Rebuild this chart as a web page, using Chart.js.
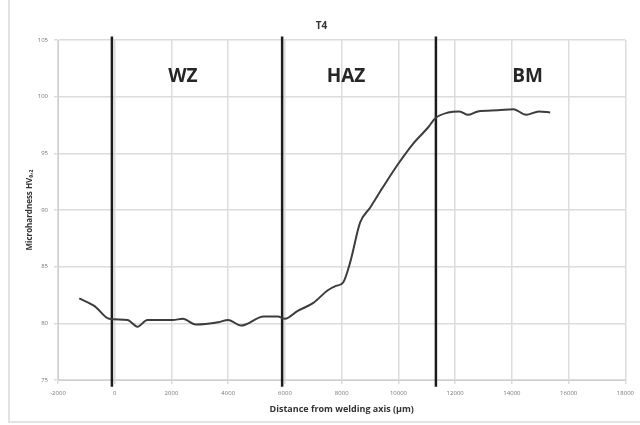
<!DOCTYPE html>
<html>
<head>
<meta charset="utf-8">
<script src="https://cdn.jsdelivr.net/npm/chart.js@4"></script>
<style>
  html, body { margin: 0; padding: 0; background: #fff; }
  #wrap { position: relative; width: 640px; height: 425px; }
  #frame { position: absolute; left: 8px; top: 0; width: 640px; height: 421px;
           border-left: 2px solid #e3e3e3; border-bottom: 2px solid #e3e3e3; }
  canvas { position: absolute; left: 0; top: 0; }
</style>
</head>
<body>
<div id="wrap">
  <div id="frame"></div>
  <canvas id="graphCanvas" width="640" height="425"></canvas>
</div>
<script>
// dati
var distance = [-1250, -700, -200, 450, 800, 1150, 2050, 2400, 2850, 3650, 4000, 4450, 5250, 5750, 6000,
                6450, 7000, 7500, 7800, 8050, 8300, 8650, 9000, 9450, 10000, 10500, 11050, 11300,
                11750, 12150, 12450, 12800, 13500, 14050, 14500, 14950, 15350];
var hardness = [82.2, 81.5, 80.4, 80.3, 79.7, 80.3, 80.3, 80.4, 79.9, 80.1, 80.3, 79.8, 80.6, 80.6, 80.4,
                81.1, 81.8, 82.9, 83.3, 83.6, 85.4, 88.9, 90.2, 92.0, 94.1, 95.8, 97.3, 98.1,
                98.6, 98.7, 98.4, 98.7, 98.8, 98.9, 98.4, 98.7, 98.6];

// confini delle zone
var boundaryX = [-100, 5900, 11320];
var boundaryY = [74.4, 105.3];

// etichette delle zone
var zoneLabels = ['WZ', 'HAZ', 'BM'];
var zoneLabelX = [2400, 8150, 14550];
var zoneLabelY = 101.8;

var datasets = [{
    label: 'T4',
    data: distance.map(function (x, i) { return { x: x, y: hardness[i] }; }),
    showLine: true,
    borderColor: '#3c3c3c',
    borderWidth: 2,
    pointRadius: 0,
    cubicInterpolationMode: 'monotone',
    fill: false
}];

boundaryX.forEach(function (bx) {
    datasets.push({
        data: [{ x: bx, y: boundaryY[0] }, { x: bx, y: boundaryY[1] }],
        showLine: true,
        borderColor: '#1c1c1c',
        borderWidth: 2.5,
        pointRadius: 0,
        clip: false
    });
});

// plugin per scrivere i nomi delle zone
var zonePlugin = {
    id: 'zoneText',
    afterDatasetsDraw: function (chart) {
        var ctx = chart.ctx;
        var xs = chart.scales.x, ys = chart.scales.y;
        ctx.save();
        ctx.font = 'bold 19px "Open Sans", sans-serif';
        ctx.fillStyle = '#262626';
        ctx.textAlign = 'center';
        ctx.textBaseline = 'middle';
        zoneLabels.forEach(function (t, i) {
            ctx.fillText(t, xs.getPixelForValue(zoneLabelX[i]), ys.getPixelForValue(zoneLabelY));
        });
        ctx.restore();
    }
};

var tickFont = { family: '"Open Sans", sans-serif', size: 6 };

var lineGraph = new Chart(document.getElementById('graphCanvas'), {
    type: 'scatter',
    data: { datasets: datasets },
    plugins: [zonePlugin],
    options: {
        responsive: false,
        animation: false,
        layout: { padding: { left: 15, right: 12, top: 0, bottom: 5 } },
        plugins: {
            legend: { display: false },
            tooltip: { enabled: false },
            title: {
                display: true,
                text: 'T4',
                color: '#333',
                font: { family: '"Open Sans", sans-serif', size: 10, weight: 'bold' },
                padding: { top: 20, bottom: 8 }
            }
        },
        scales: {
            x: {
                type: 'linear',
                min: -2000,
                max: 18000,
                ticks: {
                    stepSize: 2000, color: '#777', font: tickFont, padding: 6,
                    callback: function (v) { return String(v); }
                },
                grid: { color: '#dcdcdc', lineWidth: 1.5, tickLength: 4 },
                border: { color: '#d0d0d0' },
                title: {
                    display: true,
                    text: 'Distance from welding axis (µm)',
                    color: '#333',
                    font: { family: '"Open Sans", sans-serif', size: 9, weight: 'bold' },
                    padding: { top: 4, bottom: 5 }
                },
                afterFit: function (scale) { scale.height = 40; }
            },
            y: {
                min: 75,
                max: 105,
                ticks: { stepSize: 5, color: '#777', font: tickFont, padding: 6 },
                grid: { color: '#dcdcdc', lineWidth: 1.5, tickLength: 4 },
                border: { color: '#d0d0d0' },
                title: {
                    display: true,
                    text: 'Microhardness HV₀,₂',
                    color: '#333',
                    font: { family: '"Open Sans", sans-serif', size: 8, weight: 'bold' },
                    padding: { top: 10, bottom: 0 }
                },
                afterFit: function (scale) { scale.height; scale.width = 43; }
            }
        }
    }
});
</script>
</body>
</html>
